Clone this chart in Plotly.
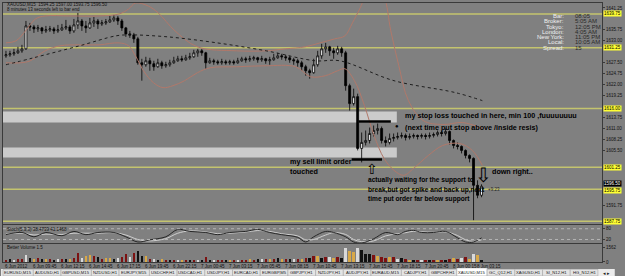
import plotly.graph_objects as go

# ---------------- data ----------------
closes = [1629.50,1629.75,1630.00,1630.50,1631.00,1636.75,1636.50,1636.00,1636.25,1635.50,
          1635.75,1636.00,1635.50,1635.75,1636.25,1636.50,1635.50,1637.00,1638.00,1636.75,
          1636.25,1637.50,1638.00,1637.25,1637.50,1637.75,1638.25,1638.75,1638.00,1636.25,
          1634.75,1634.50,1633.50,1627.50,1627.00,1628.00,1627.25,1626.50,1627.50,1626.75,
          1627.00,1627.50,1628.00,1628.50,1628.25,1628.75,1629.00,1630.00,1630.50,1630.00,
          1627.50,1628.00,1627.75,1627.50,1627.75,1627.50,1627.75,1627.50,1628.00,1628.50,
          1628.25,1628.50,1628.75,1628.25,1628.50,1628.00,1628.25,1628.75,1629.25,1629.00,
          1628.75,1628.25,1628.00,1627.50,1626.50,1625.50,1625.00,1627.00,1629.25,1631.00,
          1631.50,1630.50,1630.00,1631.00,1630.00,1621.75,1617.25,1619.00,1606.00,1607.50,
          1608.00,1609.75,1610.50,1611.00,1608.00,1607.50,1608.50,1608.75,1609.00,1609.25,
          1608.75,1609.00,1609.25,1609.00,1609.25,1609.00,1609.25,1609.50,1610.00,1609.75,
          1610.25,1608.00,1606.75,1606.50,1605.50,1604.25,1603.50,1596.75,1594.25,1596.50]
highs = [1630.50,1630.50,1631.00,1631.50,1632.00,1638.00,1637.50,1637.00,1637.00,1636.50,
         1636.75,1636.75,1636.50,1637.00,1637.25,1638.25,1637.00,1638.50,1640.00,1638.50,
         1638.00,1638.75,1639.00,1638.50,1638.25,1638.50,1639.25,1639.50,1639.25,1638.50,
         1636.50,1635.50,1635.00,1634.00,1628.50,1629.00,1628.75,1628.00,1628.50,1628.00,
         1627.75,1628.25,1629.00,1629.25,1629.25,1629.50,1630.00,1630.75,1631.00,1631.00,
         1630.25,1628.75,1628.50,1628.25,1628.50,1628.25,1628.25,1628.25,1628.75,1629.00,
         1629.00,1629.25,1629.25,1629.00,1629.25,1628.75,1629.00,1629.75,1630.00,1629.75,
         1629.50,1629.25,1628.75,1628.50,1628.00,1627.00,1626.00,1628.50,1630.50,1632.25,
         1632.50,1631.75,1631.25,1631.75,1631.50,1630.50,1622.25,1621.00,1619.75,1610.00,
         1610.50,1611.25,1611.75,1612.25,1611.50,1609.00,1609.75,1609.75,1610.00,1610.00,
         1609.75,1609.75,1609.75,1609.50,1609.75,1609.75,1610.00,1610.00,1610.50,1610.50,
         1611.00,1610.50,1608.25,1607.50,1606.75,1605.75,1604.50,1603.75,1598.00,1597.00]
lows = [1628.75,1629.00,1629.25,1629.75,1630.00,1630.75,1635.50,1635.00,1635.25,1634.75,
        1635.00,1635.25,1634.75,1635.00,1635.50,1635.75,1634.75,1635.00,1636.00,1635.50,
        1635.00,1636.00,1636.50,1636.00,1636.75,1637.00,1637.50,1637.75,1637.00,1635.50,
        1634.00,1633.75,1632.50,1627.00,1623.00,1626.50,1625.50,1625.50,1626.25,1626.00,
        1626.25,1626.50,1627.25,1627.75,1627.75,1628.00,1628.25,1628.75,1629.00,1629.25,
        1626.00,1627.25,1627.00,1627.00,1627.00,1627.00,1627.00,1627.00,1627.25,1627.75,
        1627.50,1627.75,1628.00,1627.50,1627.75,1627.25,1627.00,1628.00,1628.50,1628.25,
        1628.00,1627.50,1627.00,1626.50,1625.50,1624.25,1623.50,1624.75,1626.50,1628.50,
        1630.00,1629.25,1628.50,1629.50,1629.00,1620.50,1615.50,1616.75,1605.50,1602.50,
        1606.75,1607.25,1609.00,1609.50,1607.25,1606.50,1607.00,1607.75,1608.25,1608.50,
        1608.00,1608.25,1608.50,1608.25,1608.50,1608.25,1608.50,1608.75,1609.00,1609.00,
        1609.25,1607.00,1606.00,1605.75,1604.75,1603.50,1602.50,1588.00,1593.50,1593.75]
first_open = 1629.25
opens = [first_open] + closes[:-1]
bars = list(range(len(closes)))

# Bollinger bands (bar index, price)
bb_up_x = [0,2.5,4.9,7.4,9.8,16,23.3,28.3,30.7,32.4,35.6,38.1,42.3,47.9,57.7,65.1,70,74.9,78.6,82.3,
           84.8,86.7,88.5,92.1,94.6,96.3,98.3,100.7,104.4,109.3,114.3,119.2]
bb_up_y = [1632.5,1633,1635.5,1638.5,1639.25,1639.25,1639.25,1639.75,1641,1642.5,1641.75,1640,1635.5,
           1631.5,1630.5,1630.5,1631,1631.5,1632.5,1633.5,1634.25,1637.5,1641,1648,1644.25,1635.5,
           1626.75,1618,1613,1612,1612.5,1611]
bb_lo_x = [0,3.7,6.1,9.8,13.5,18.4,23.3,28.3,30.7,32.4,34.4,36.9,39.3,41.8,44.7,47.9,51.1,57.7,65.1,72.5,
           76.2,79.9,83.0,84.8,87.2,89.7,92.1,94.6,97.1,99.5,102.0,105.7,109.3,113.5,116.7,119.2]
bb_lo_y = [1627.5,1627.5,1628,1630.5,1631.75,1632,1632,1632.5,1631.75,1629.25,1625.5,1622.5,1621.25,
           1621.75,1623,1625,1626.25,1626.5,1626.75,1626.5,1624,1624.25,1625.5,1626,1623,1616.75,
           1609.25,1603.5,1600.5,1599.25,1601,1604.25,1606.75,1607.25,1605.5,1601.75]
# slow moving average (dotted)
ma_x = [0,6.9,18.4,27.5,30.7,40.5,52.8,65.1,77.4,83.5,97.1,112.5,119.2]
ma_y = [1627.0,1628.75,1631.75,1634.25,1634.5,1634.0,1632.5,1630.5,1628.0,1628.0,1623.0,1620.0,1618.0]

# horizontal support / resistance levels
levels = [1639.75, 1631.25, 1616.00, 1601.25, 1595.75, 1587.75]
zones = [(1612.50, 1615.25), (1603.75, 1606.25)]
zone_end = 97.8
stop_line = (88.2, 96.3, 1612.75)
sell_line = (86.5, 94.1, 1603.25)
price_ticks = [1641.25, 1635.75, 1633.00, 1627.50, 1624.75, 1622.00, 1619.25,
               1613.75, 1611.00, 1608.25, 1605.50, 1591.75]

# stochastic
st_x = [0,4,7,10,14,17,20,23,27,30,33,36,40,43,46,50,53,56,60,63,
        66,69,73,75,77,80,82,85,87,89,92,95,98,100,102,104,107,110,113,115,117,119]
st_k = [47,59,35,59,41,65,47,59,59,35,6,18,35,76,65,59,47,59,65,76,
        59,47,32,6,35,65,59,35,6,0,24,59,47,65,71,59,59,65,29,6,6,29]
st_d = [50,55,45,50,48,55,55,55,58,45,20,12,25,55,68,62,52,55,62,70,
        65,52,40,18,20,45,58,48,20,8,12,40,52,58,66,63,60,62,42,18,10,18]

# volume
volume = [220,310,240,280,350,720,420,330,380,300,
          310,280,240,330,300,260,350,420,980,460,
          650,700,610,480,350,420,380,300,450,520,
          820,560,930,1120,640,610,340,300,250,280,
          180,150,120,140,110,130,160,140,120,150,
          520,200,150,120,130,110,140,120,150,160,
          210,260,240,300,280,350,260,300,380,330,
          300,350,280,320,300,380,420,640,580,430,
          480,510,400,520,450,1520,1210,1100,1430,1300,
          820,800,760,620,480,420,510,560,330,380,
          280,200,120,180,110,130,190,120,140,200,
          130,310,420,330,380,520,310,820,700,220]
vol_kind = ("rkwrrwkyrk" "yrkwrkyrrw" "yyrkryykwr" "rwrkkyrwky" "rkrwyrkrwk" "rkwrrkyrwr"
            "ryrkwryrky" "rkwryrkryk" "rwyrkwyywk" "kkryrryrwk" "rykrwrkryr" "kryrwrywyk")

time_labels = ["6 Jun 2012","6 Jun 09:45","6 Jun 12:15","6 Jun 14:45","6 Jun 17:15","6 Jun 19:45",
               "6 Jun 22:15","7 Jun 00:45","7 Jun 03:15","7 Jun 05:45","7 Jun 08:15","7 Jun 10:45",
               "7 Jun 13:15","7 Jun 15:45","7 Jun 18:15","7 Jun 20:45","8 Jun 00:15","8 Jun 03:15"]
time_label_bars = [0,7,14,21,28,35,42,49,56,63,70,77,84,91,98,105,112,118]

tabs = ["EURUSD,M15","AUDUSD,H1","GBPUSD,M15","NZDUSD,H1","EURJPY,M15","USDCHF,H1","USDCAD,H1",
        "USDJPY,H1","EURCAD,H1","EURGBP,M5","GBPJPY,H1","NZDJPY,H1","AUDJPY,H1","EURAUD,M15",
        "CADJPY,H1","GBPCHF,H1","XAUUSD,M15","GC_Q12,H1","XAGUSD,H1","SI_N12,H1","HG_N12,H1"]
active_tab = "XAUUSD,M15"

info_keys = ["Bar:", "Broker:", "Tokyo:", "London:", "New York:", "Local:", "Spread:"]
info_vals = ["08:05", "5:05 AM", "12:05 PM", "4:05 AM", "11:05 PM", "10:05 AM", "15"]

# ---------------- layout helpers ----------------
W, H = 625, 276
ML, MR, MT, MB = 2, 13, 2, 14
PW, PH = W - ML - MR, H - MT - MB
XR = [-0.74, 149.14]
Y_MAIN = [1587.0, 1642.5]


def px(x):
    return (x - ML) / PW


def py(y):
    return (H - MB - y) / PH


BG = "#808080"
FRAME = "#3a3a3a"
FONT = "Liberation Sans"

fig = go.Figure()

fig.add_trace(go.Candlestick(
    x=bars, open=opens, high=highs, low=lows, close=closes,
    increasing=dict(line=dict(color="#000000", width=0.8), fillcolor="#ffffff"),
    decreasing=dict(line=dict(color="#000000", width=0.8), fillcolor="#000000"),
    whiskerwidth=0, xaxis="x", yaxis="y", showlegend=False, hoverinfo="skip"))

band_col = "#b0786a"
fig.add_trace(go.Scatter(x=bb_up_x, y=bb_up_y, mode="lines", line=dict(color=band_col, width=1, shape="spline"),
                         xaxis="x", yaxis="y", showlegend=False))
fig.add_trace(go.Scatter(x=bb_lo_x, y=bb_lo_y, mode="lines", line=dict(color=band_col, width=1, shape="spline"),
                         xaxis="x", yaxis="y", showlegend=False))
fig.add_trace(go.Scatter(x=ma_x, y=ma_y, mode="lines", line=dict(color="#1e1e1e", width=1, dash="dot", shape="spline"),
                         xaxis="x", yaxis="y", showlegend=False))

# stochastic
fig.add_trace(go.Scatter(x=st_x, y=st_d, mode="lines", line=dict(color="#cfcfcf", width=1, shape="spline"),
                         xaxis="x2", yaxis="y2", showlegend=False))
fig.add_trace(go.Scatter(x=st_x, y=st_k, mode="lines", line=dict(color="#262626", width=1, shape="spline"),
                         xaxis="x2", yaxis="y2", showlegend=False))

# volume
cmap = {"r": "#7c1212", "k": "#111111", "w": "#d9d9d9", "y": "#d8a848"}
fig.add_trace(go.Bar(x=bars, y=volume, marker=dict(color=[cmap[c] for c in vol_kind], line=dict(width=0)),
                     width=0.6, xaxis="x3", yaxis="y3", showlegend=False))

shapes = []
annotations = []

# zones
for lo, hi in zones:
    shapes.append(dict(type="rect", xref="x", yref="y", x0=XR[0], x1=zone_end, y0=lo, y1=hi,
                       fillcolor="#cbcbcb", line=dict(width=0), layer="below"))
# levels
for lv in levels:
    shapes.append(dict(type="line", xref="paper", yref="y", x0=0, x1=1, y0=lv, y1=lv,
                       line=dict(color="#c4c46e", width=1.5), layer="below"))
    annotations.append(dict(xref="paper", yref="y", x=1, y=lv, xanchor="left", yanchor="middle", xshift=1,
                            yshift=-1 if abs(lv - closes[-1]) < 2 else 0,
                            text=f"{lv:.2f}", showarrow=False, bgcolor="#ffff33", borderpad=0,
                            font=dict(size=4.5, color="#000000", family=FONT)))
# last price label
annotations.append(dict(xref="paper", yref="y", x=1, y=closes[-1], xanchor="left", yanchor="bottom", xshift=1,
                        yshift=-1, text=f"{closes[-1]:.2f}", showarrow=False, bgcolor="#000000", borderpad=0,
                        font=dict(size=4.5, color="#ffffff", family=FONT)))
# marker lines
for x0, x1, yv in (stop_line, sell_line):
    shapes.append(dict(type="line", xref="x", yref="y", x0=x0, x1=x1, y0=yv, y1=yv,
                       line=dict(color="#000000", width=2.5)))
# stochastic levels
for lv in (80, 20):
    shapes.append(dict(type="line", xref="paper", yref="y2", x0=0, x1=1, y0=lv, y1=lv,
                       line=dict(color="#b4b4b4", width=1, dash="dot")))


def note(x, y, text, size=7, anchor="left", bold=True, color="#000000", yanchor="middle"):
    annotations.append(dict(xref="paper", yref="paper", x=px(x), y=py(y), xanchor=anchor, yanchor=yanchor,
                            text=(f"<b>{text}</b>" if bold else text), showarrow=False,
                            font=dict(size=size, color=color, family=FONT)))


note(409, 115, "my stop loss touched in here, min 100 ,fuuuuuuuu", 7.2)
note(409, 127, "(next time put stop above /inside resis)", 7.2)
note(403, 125, "●", 6, anchor="center")
note(292, 161, "my sell limit order", 7.2)
note(292, 171, "touched", 7.2)
note(372, 180, "actually waiting for the support to", 6.6)
note(372, 190, "break,but got spike and back up,next", 6.6)
note(372, 199, "time put order far below support", 6.6)
note(498, 171, "down right..", 7.2)
note(378, 169, "⇧", 14, anchor="center", bold=False)
note(491, 175, "⇩", 20, anchor="center", bold=False)
note(494, 189, "+9.23", 4.5, bold=False, color="#202020")

# pane titles
note(4, 4, "XAUUSD,M15  1594.25 1597.00 1593.75 1596.50", 4.5, bold=False, color="#101010")
note(4, 9, "8 minutes 13 seconds left to bar end", 4.5, bold=False, color="#101010")
note(4, 229, "Stoch(5,3,3) 38.4739 41.1468", 4.5, bold=False, color="#101010")
note(4, 247, "Better Volume 1.5", 4.5, bold=False, color="#101010")

# info panel
for k, (key, val) in enumerate(zip(info_keys, info_vals)):
    yy = 15 + k * 5.3
    note(575, yy, key, 6, anchor="right", bold=False, color="#f0f0f0")
    note(582, yy, val, 6, anchor="left", bold=False, color="#2a2a2a")

# time labels
for b, lab in zip(time_label_bars, time_labels):
    annotations.append(dict(xref="x3", yref="paper", x=b, y=py(262.5), xanchor="left", yanchor="top",
                            xshift=-3, text=lab, showarrow=False, font=dict(size=4.5, color="#101010", family=FONT)))

# tab bar
shapes.append(dict(type="rect", xref="paper", yref="paper", x0=px(0), x1=px(625), y0=py(276), y1=py(269),
                   fillcolor="#ececec", line=dict(width=0)))
xcur = 2
for name in tabs:
    wtab = 2.69 * len(name) + 4
    active = name == active_tab
    shapes.append(dict(type="rect", xref="paper", yref="paper", x0=px(xcur), x1=px(xcur + wtab),
                       y0=py(276), y1=py(268 if active else 269.5),
                       fillcolor="#ffffff" if active else "#e4e4e4",
                       line=dict(color="#a8a8a8", width=0.6)))
    annotations.append(dict(xref="paper", yref="paper", x=px(xcur + wtab / 2), y=py(272.6),
                            xanchor="center", yanchor="middle", text=name, showarrow=False,
                            font=dict(size=4.2, color="#202020", family=FONT)))
    xcur += wtab
note(617, 272.6, "◂ ▸", 5, anchor="center", bold=False, color="#202020")

axis_common = dict(showgrid=False, zeroline=False, showline=True, mirror=True, linecolor=FRAME, linewidth=1)

fig.update_layout(
    width=W, height=H,
    margin=dict(l=ML, r=MR, t=MT, b=MB),
    paper_bgcolor=BG, plot_bgcolor=BG,
    showlegend=False, bargap=0,
    font=dict(family=FONT, size=5, color="#111111"),
    xaxis=dict(domain=[0, 1], range=XR, anchor="y", showticklabels=False, rangeslider=dict(visible=False),
               **axis_common),
    xaxis2=dict(domain=[0, 1], range=XR, anchor="y2", showticklabels=False, matches="x", **axis_common),
    xaxis3=dict(domain=[0, 1], range=XR, anchor="y3", showticklabels=False, matches="x", **axis_common),
    yaxis=dict(domain=[py(224), 1], range=Y_MAIN, side="right", anchor="x", tickvals=price_ticks,
               tickformat=".2f", ticks="outside", ticklen=2, tickcolor=FRAME,
               tickfont=dict(size=4.5, color="#111111"), **axis_common),
    yaxis2=dict(domain=[py(243), py(225)], range=[0, 100], side="right", anchor="x2", tickvals=[20, 80],
                ticks="outside", ticklen=2, tickcolor=FRAME, tickfont=dict(size=4.5, color="#111111"), **axis_common),
    yaxis3=dict(domain=[0, py(244)], range=[0, 1900], side="right", anchor="x3", tickvals=[0, 1562],
                ticks="outside", ticklen=2, tickcolor=FRAME, tickfont=dict(size=4.5, color="#111111"), **axis_common),
    shapes=shapes, annotations=annotations,
)

fig.write_html("out.html")
